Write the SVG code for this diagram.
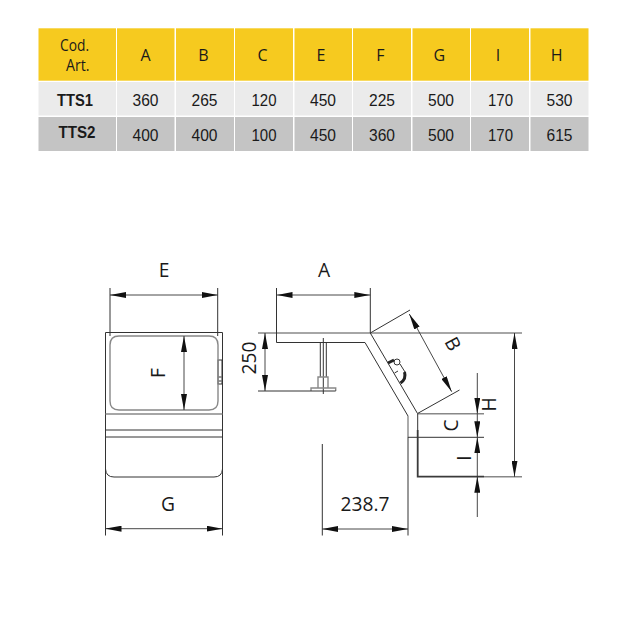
<svg xmlns="http://www.w3.org/2000/svg" width="630" height="630" viewBox="0 0 630 630">
<style>
.h{fill:#f6ca1f}.r1{fill:#ebebeb}.r2{fill:#c4c4c4}
text{fill:#1a1a1a}
.t{font:17px "Liberation Sans",Arial,sans-serif;text-anchor:middle}
.k{font:bold 16.5px "Liberation Sans",Arial,sans-serif;text-anchor:middle}
.c{font:16px "Open Sans",sans-serif;text-anchor:middle}
.d{font:19.2px "Open Sans",sans-serif;text-anchor:middle}
.l{fill:none;stroke:#333;stroke-width:1}
.g{fill:none;stroke:#888;stroke-width:1.4}
.b{fill:none;stroke:#3a3a3a;stroke-width:1.8}
.a{fill:none;stroke:#333;stroke-width:.9;marker-start:url(#m);marker-end:url(#m)}
.e{fill:none;stroke:#333;stroke-width:.9;marker-end:url(#m)}
</style>
<defs><marker id="m" markerUnits="userSpaceOnUse" markerWidth="16" markerHeight="6" refX="16" refY="3" orient="auto-start-reverse"><path d="M0 3L16 0V6Z" transform="translate(16 6) rotate(180)" fill="#111"/></marker></defs>
<rect width="630" height="630" fill="#fff"/>
<g id="table">
<rect class="h" x="38.5" y="28.3" width="77.5" height="52.4"/><rect class="h" x="117" y="28.3" width="57.5" height="52.4"/><rect class="h" x="176" y="28.3" width="58" height="52.4"/><rect class="h" x="235" y="28.3" width="58" height="52.4"/><rect class="h" x="294.5" y="28.3" width="57.5" height="52.4"/><rect class="h" x="353" y="28.3" width="58" height="52.4"/><rect class="h" x="412.5" y="28.3" width="57.5" height="52.4"/><rect class="h" x="471" y="28.3" width="58" height="52.4"/><rect class="h" x="530.5" y="28.3" width="58" height="52.4"/>
<rect class="r1" x="38.5" y="82" width="77.5" height="33.5"/><rect class="r1" x="117" y="82" width="57.5" height="33.5"/><rect class="r1" x="176" y="82" width="58" height="33.5"/><rect class="r1" x="235" y="82" width="58" height="33.5"/><rect class="r1" x="294.5" y="82" width="57.5" height="33.5"/><rect class="r1" x="353" y="82" width="58" height="33.5"/><rect class="r1" x="412.5" y="82" width="57.5" height="33.5"/><rect class="r1" x="471" y="82" width="58" height="33.5"/><rect class="r1" x="530.5" y="82" width="58" height="33.5"/>
<rect class="r2" x="38.5" y="117" width="77.5" height="34"/><rect class="r2" x="117" y="117" width="57.5" height="34"/><rect class="r2" x="176" y="117" width="58" height="34"/><rect class="r2" x="235" y="117" width="58" height="34"/><rect class="r2" x="294.5" y="117" width="57.5" height="34"/><rect class="r2" x="353" y="117" width="58" height="34"/><rect class="r2" x="412.5" y="117" width="57.5" height="34"/><rect class="r2" x="471" y="117" width="58" height="34"/><rect class="r2" x="530.5" y="117" width="58" height="34"/>
<text class="c" x="74.5" y="51" textLength="29" lengthAdjust="spacingAndGlyphs">Cod.</text><text class="c" x="77.7" y="71" textLength="23.5" lengthAdjust="spacingAndGlyphs">Art.</text>
<text class="c" x="145.5" y="60.7">A</text><text class="c" x="203.5" y="60.7">B</text><text class="c" x="262.5" y="60.7">C</text><text class="c" x="321" y="60.7">E</text><text class="c" x="380.5" y="60.7">F</text><text class="c" x="439.3" y="60.7">G</text><text class="c" x="498" y="60.7">I</text><text class="c" x="556.7" y="60.7">H</text>
<text class="k" x="75" y="105.7" textLength="36" lengthAdjust="spacingAndGlyphs">TTS1</text><text class="k" x="77" y="138" textLength="37" lengthAdjust="spacingAndGlyphs">TTS2</text>
<g>
<text class="t" x="145.5" y="105.7" textLength="26" lengthAdjust="spacingAndGlyphs">360</text><text class="t" x="204.5" y="105.7" textLength="26" lengthAdjust="spacingAndGlyphs">265</text><text class="t" x="264" y="105.7" textLength="25" lengthAdjust="spacingAndGlyphs">120</text><text class="t" x="323" y="105.7" textLength="26" lengthAdjust="spacingAndGlyphs">450</text><text class="t" x="382" y="105.7" textLength="26" lengthAdjust="spacingAndGlyphs">225</text><text class="t" x="441" y="105.7" textLength="26" lengthAdjust="spacingAndGlyphs">500</text><text class="t" x="500.5" y="105.7" textLength="25" lengthAdjust="spacingAndGlyphs">170</text><text class="t" x="559.5" y="105.7" textLength="26" lengthAdjust="spacingAndGlyphs">530</text>
<text class="t" x="145.5" y="140.5" textLength="26" lengthAdjust="spacingAndGlyphs">400</text><text class="t" x="204.5" y="140.5" textLength="26" lengthAdjust="spacingAndGlyphs">400</text><text class="t" x="264" y="140.5" textLength="25" lengthAdjust="spacingAndGlyphs">100</text><text class="t" x="323" y="140.5" textLength="26" lengthAdjust="spacingAndGlyphs">450</text><text class="t" x="382" y="140.5" textLength="26" lengthAdjust="spacingAndGlyphs">360</text><text class="t" x="441" y="140.5" textLength="26" lengthAdjust="spacingAndGlyphs">500</text><text class="t" x="500.5" y="140.5" textLength="25" lengthAdjust="spacingAndGlyphs">170</text><text class="t" x="559.5" y="140.5" textLength="26" lengthAdjust="spacingAndGlyphs">615</text></g>
</g>
<g id="front-view">
<path class="l" d="M105.5 535.5V332.5H222.5V535.5"/>
<rect class="l" x="218" y="360" width="4" height="24"/>
<path class="l" d="M218.5 377H221.5M218.5 381H221.5"/>
<path class="g" d="M110 345Q110 336 119 336H209Q218 336 218 345V401Q218 410 209 410H119Q110 410 110 401Z"/>
<path class="g" d="M105.5 414H222.5"/>
<path class="l" d="M105.5 430H222.5M105.5 437H222.5M105.5 469Q106 477 114 477H214Q222 477 222.5 469"/>
</g>
<g id="side-view">
<path class="g" d="M258 333H522"/>
<path class="l" d="M276.5 333V342.5H365L408 416"/>
<path class="l" d="M370.3 333L417.5 413.5"/>
<path class="g" d="M408 416V437"/>
<path class="l" d="M408 437V535.5"/>
<path class="g" d="M417.5 413.7H484"/>
<path class="l" d="M408 437.3H484"/>
<path class="l" d="M417.7 413.7V430"/>
<path class="b" d="M417.7 430V476.7H484"/>
<path class="g" d="M484 476.7H522"/>
<path class="l" d="M320.3 342.5V377M326.3 342.5V377M323.3 338V394"/>
<path class="g" d="M318 388V377H328V388"/>
<path class="g" d="M311 391V388H335.7V391"/>
<path class="l" d="M258 391H335.7"/>
<circle class="l" cx="397" cy="362" r="3"/>
<path class="l" d="M400 364L405 372"/>
<path d="M404.5 372Q406.5 379 400.5 383" fill="none" stroke="#222" stroke-width="3"/>
<path d="M388 363L394 360" fill="none" stroke="#222" stroke-width="3"/>
<path class="l" d="M394.5 373L398 371"/>
</g>
<g id="connectors">
<path class="l" d="M110 288V336M217.7 288V336M276.5 288V333M370.3 288V333M370.3 333L410 310M417.5 413.5L459.5 390M322.3 444V535.5"/>
<path class="a" d="M110 295H217.7"/>
<path class="a" d="M105.5 528.7H222.5"/>
<path class="a" d="M184 336V410"/>
<path class="a" d="M276.5 295H370.3"/>
<path class="a" d="M265 333V391"/>
<path class="a" d="M409.3 314L451.7 391.7"/>
<path class="a" d="M514.5 333V476.7"/>
<path class="a" d="M322.3 529H408"/>
<path class="e" d="M477.3 373V413.7"/>
<path class="e" d="M477.3 413.7V437.3"/>
<path class="e" d="M477.3 476.7V437.3"/>
<path class="e" d="M477.3 517V476.7"/>
</g>
<g id="labels">
<text class="d" x="164" y="276.5">E</text>
<text class="d" x="324" y="276.5">A</text>
<text class="d" x="168" y="511">G</text>
<text class="d" x="365" y="510.5">238.7</text>
<text class="d" transform="translate(165 373) rotate(-90)">F</text>
<text class="d" transform="translate(255.5 358) rotate(-90)">250</text>
<text class="d" transform="translate(447 347) rotate(62)">B</text>
<text class="d" transform="translate(496 404.5) rotate(-90)">H</text>
<text class="d" transform="translate(458 425.5) rotate(-90)">C</text>
<text class="d" transform="translate(471 458) rotate(-90)">I</text>
</g>
</svg>
